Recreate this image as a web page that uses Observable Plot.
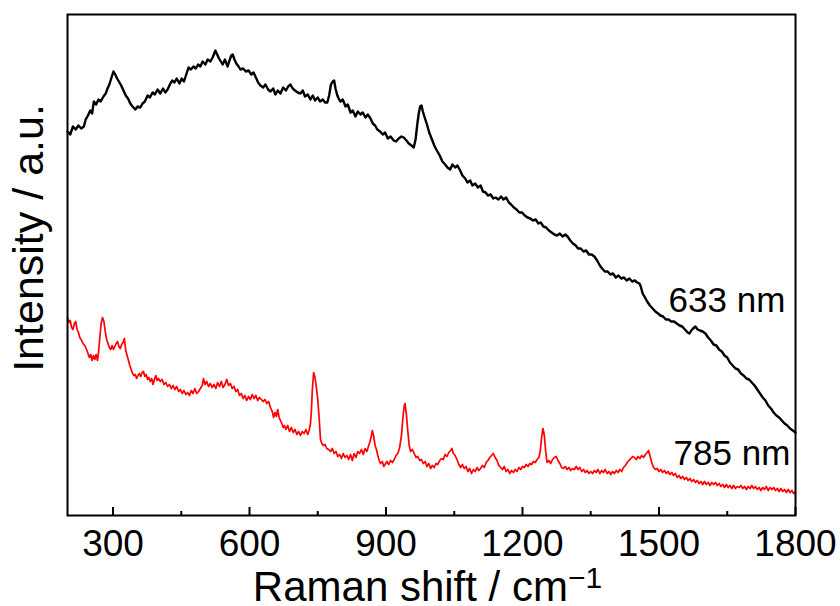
<!DOCTYPE html>
<html>
<head>
<meta charset="utf-8">
<script src="https://cdn.jsdelivr.net/npm/d3@7"></script>
<script src="https://cdn.jsdelivr.net/npm/@observablehq/plot@0.6"></script>
<style>
  html, body { margin: 0; padding: 0; background: #fff; }
  #chart { width: 840px; height: 606px; }
</style>
</head>
<body>
<div id="chart"></div>
<script>
// Raman spectrum measured with 633 nm excitation: [Raman shift (cm-1), intensity (a.u.)]
const spectrum633 = [
[200,384],[206,381],[212,389],[218,386],[224,390],[230,387],[236,389],[240,396],[245,400],[250,405],
[254,402],[258,414],[263,411],[268,416],[273,414],[279,419],[284,422],[288,427],[292,431],[296,437],
[301,444],[305,441],[309,437],[313,434],[318,430],[323,425],[328,420],[333,417],[338,412],[343,409],
[349,406],[354,409],[360,408],[365,412],[370,414],[376,420],[381,418],[387,423],[392,421],[398,426],
[404,422],[410,427],[415,423],[420,426],[425,431],[430,435],[435,433],[440,437],[446,432],[451,437],
[456,434],[461,441],[466,448],[471,446],[477,449],[482,447],[487,451],[492,449],[497,454],[503,451],
[508,456],[514,454],[519,458],[525,465],[529,461],[533,457],[537,454],[541,451],[546,456],[552,449],
[556,455],[560,460],[563,461],[567,456],[571,452],[576,449],[580,446],[586,447],[592,444],[598,445],
[604,441],[609,443],[614,438],[619,433],[624,430],[630,428],[635,431],[641,426],[646,424],[652,427],
[657,421],[662,425],[668,422],[674,428],[680,425],[685,429],[690,431],[695,427],[700,425],[706,423],
[712,422],[717,425],[722,419],[728,421],[734,416],[739,420],[744,415],[750,418],[755,414],[761,416],
[766,413],[771,413],[775,420],[779,431],[783,434],[786,435],[789,427],[793,420],[797,416],[800,414],
[805,416],[811,409],[816,411],[822,403],[827,405],[833,399],[838,404],[844,401],[849,403],[855,398],
[860,401],[866,397],[871,392],[876,390],[881,386],[887,384],[893,381],[898,383],[904,377],[910,379],
[917,375],[922,374],[928,377],[934,379],[939,378],[945,375],[950,372],[956,370],[961,368],[965,376],
[969,392],[972,402],[975,409],[978,410],[981,404],[985,398],[990,391],[995,383],[1001,376],[1007,369],
[1013,364],[1018,360],[1024,354],[1030,351],[1035,348],[1041,346],[1046,351],[1052,348],[1057,350],[1063,345],
[1068,340],[1074,337],[1079,333],[1085,335],[1090,330],[1096,332],[1102,328],[1108,330],[1113,324],[1119,323],
[1124,320],[1130,321],[1136,317],[1141,318],[1147,316],[1153,319],[1158,316],[1164,318],[1170,313],[1175,311],
[1181,308],[1187,306],[1193,303],[1199,303],[1205,300],[1211,298],[1217,297],[1223,295],[1229,296],[1235,292],
[1240,293],[1246,289],[1252,288],[1258,285],[1264,283],[1270,281],[1276,280],[1282,282],[1288,279],[1294,281],
[1299,279],[1305,275],[1311,272],[1317,270],[1322,267],[1328,267],[1334,264],[1340,265],[1346,261],[1352,261],
[1358,259],[1364,255],[1370,250],[1375,247],[1381,244],[1387,244],[1393,241],[1399,242],[1405,238],[1411,240],
[1417,237],[1423,238],[1429,235],[1435,237],[1441,234],[1447,235],[1452,233],[1457,232],[1460,229],[1464,222],
[1468,219],[1474,214],[1480,210],[1486,207],[1492,204],[1498,202],[1503,200],[1509,199],[1515,196],[1521,196],
[1527,194],[1533,194],[1539,192],[1545,190],[1551,189],[1557,186],[1563,183],[1567,182],[1571,185],[1575,187],
[1580,189],[1585,186],[1590,185],[1596,184],[1602,182],[1608,178],[1614,175],[1620,171],[1626,170],[1632,166],
[1638,164],[1644,160],[1650,158],[1656,153],[1662,150],[1668,147],[1674,146],[1680,142],[1686,140],[1692,137],
[1698,136],[1704,133],[1710,130],[1716,126],[1722,122],[1728,118],[1734,115],[1740,110],[1746,107],[1752,103],
[1758,100],[1764,98],[1770,95],[1776,92],[1782,90],[1788,87],[1794,85],[1800,83]
];

// Raman spectrum measured with 785 nm excitation: [Raman shift (cm-1), intensity (a.u.)]
const spectrum785 = [
[200,198],[203,193],[206,195],[209,188],[212,186],[215,192],[218,194],[221,186],[224,183],[227,178],
[230,176],[234,172],[238,170],[242,166],[245,162],[248,158],[251,161],[254,155],[257,160],[260,156],
[263,161],[266,155],[268,162],[271,178],[274,192],[277,198],[280,194],[283,184],[286,176],[289,172],
[292,168],[295,166],[298,170],[301,166],[304,169],[307,172],[310,174],[313,169],[316,167],[319,171],
[322,173],[325,177],[328,165],[331,160],[334,155],[337,150],[340,146],[343,142],[346,140],[349,141],
[352,137],[355,140],[358,142],[361,139],[364,143],[367,144],[370,139],[373,141],[376,136],[379,138],
[382,134],[385,137],[388,131],[391,136],[394,140],[397,135],[400,137],[404,134],[408,136],[412,131],
[416,133],[420,129],[424,131],[428,127],[432,130],[436,126],[440,129],[444,124],[448,126],[452,122],
[456,125],[460,121],[464,123],[468,120],[472,125],[476,122],[480,127],[484,122],[488,124],[492,127],
[496,130],[499,137],[502,131],[506,134],[510,129],[514,132],[518,128],[522,131],[526,127],[530,133],
[534,129],[538,134],[542,128],[546,131],[550,136],[554,130],[558,132],[562,127],[566,129],[570,124],
[574,126],[578,120],[582,122],[586,117],[590,120],[594,115],[598,119],[602,116],[606,121],[610,117],
[614,120],[618,115],[622,118],[626,116],[630,114],[634,116],[638,112],[642,114],[646,108],[650,104],
[653,98],[656,103],[659,99],[662,106],[665,98],[668,95],[671,92],[674,88],[677,90],[680,86],
[684,90],[688,84],[692,88],[696,83],[700,86],[704,81],[708,84],[712,80],[716,84],[720,82],
[724,86],[728,81],[731,85],[734,92],[736,104],[738,125],[741,143],[744,138],[747,128],[750,116],
[753,98],[756,76],[759,72],[762,70],[766,71],[770,67],[774,66],[778,64],[782,67],[786,62],
[790,64],[794,59],[798,61],[802,57],[806,62],[810,58],[814,60],[818,56],[822,61],[826,55],
[830,62],[834,58],[838,64],[842,62],[846,66],[850,61],[854,67],[858,64],[862,70],[865,74],
[868,80],[870,85],[873,79],[876,70],[879,66],[882,60],[885,55],[888,52],[892,54],[895,49],
[898,51],[902,54],[906,51],[910,55],[914,53],[918,56],[922,60],[926,62],[930,68],[934,80],
[937,97],[940,110],[942,112],[945,100],[948,84],[951,70],[954,64],[958,66],[962,62],[966,58],
[970,59],[974,55],[978,56],[982,52],[986,54],[990,49],[994,52],[998,47],[1002,50],[1006,48],
[1010,52],[1014,51],[1018,55],[1022,57],[1026,56],[1030,61],[1034,59],[1038,63],[1042,65],[1045,67],
[1048,62],[1052,60],[1056,56],[1060,51],[1064,48],[1068,51],[1072,47],[1076,49],[1080,44],[1084,47],
[1088,42],[1092,46],[1096,44],[1100,48],[1104,45],[1108,47],[1112,50],[1116,48],[1120,53],[1124,55],
[1128,58],[1132,60],[1136,62],[1140,58],[1144,55],[1148,50],[1152,48],[1156,46],[1160,49],[1164,44],
[1168,46],[1172,42],[1176,45],[1180,43],[1184,46],[1188,44],[1192,48],[1196,46],[1200,49],[1204,48],
[1208,51],[1212,49],[1216,52],[1220,51],[1224,54],[1228,53],[1232,56],[1236,58],[1239,64],[1242,78],
[1245,87],[1248,80],[1251,64],[1254,53],[1258,55],[1262,52],[1266,56],[1270,58],[1274,59],[1278,55],
[1282,52],[1286,48],[1290,47],[1294,49],[1298,46],[1302,48],[1306,45],[1310,47],[1314,46],[1318,49],
[1322,46],[1326,48],[1330,44],[1334,46],[1338,43],[1342,45],[1346,42],[1350,44],[1354,42],[1358,45],
[1362,43],[1366,46],[1370,42],[1374,45],[1378,43],[1382,46],[1386,42],[1390,44],[1394,41],[1398,44],
[1402,42],[1406,45],[1410,43],[1414,46],[1418,44],[1422,48],[1426,50],[1430,53],[1434,55],[1438,57],
[1442,59],[1446,58],[1450,56],[1454,59],[1458,57],[1462,60],[1466,58],[1470,61],[1474,63],[1477,65],
[1480,60],[1484,53],[1488,48],[1492,46],[1496,47],[1500,44],[1504,46],[1508,43],[1512,45],[1516,42],
[1520,44],[1524,41],[1528,43],[1532,40],[1536,42],[1540,38],[1544,40],[1548,37],[1552,39],[1556,36],
[1560,38],[1564,35],[1568,37],[1572,34],[1576,36],[1580,33],[1584,35],[1588,32],[1592,34],[1596,31],
[1600,34],[1604,31],[1608,33],[1612,30],[1616,33],[1620,31],[1624,33],[1628,30],[1632,32],[1636,29],
[1640,31],[1644,28],[1648,31],[1652,28],[1656,30],[1660,27],[1664,30],[1668,27],[1672,29],[1676,28],
[1680,30],[1684,27],[1688,29],[1692,26],[1696,29],[1700,27],[1704,30],[1708,27],[1712,29],[1716,26],
[1720,28],[1724,25],[1728,28],[1732,26],[1736,29],[1740,25],[1744,28],[1748,26],[1752,28],[1756,25],
[1760,27],[1764,24],[1768,27],[1772,24],[1776,26],[1780,23],[1784,26],[1788,23],[1792,25],[1796,22],
[1800,24]
];

const majorTicks = [300, 600, 900, 1200, 1500, 1800];
const minorTicks = [450, 750, 1050, 1350, 1650];

const seriesNames = ["633 nm", "785 nm"];
const seriesColors = ["#000000", "#ff0000"];
const labelShift = [1521, 1532];
const labelIntensity = [228, 75];

const xTitle = "Raman shift / cm";
const xTitleExponent = "\u22121";
const yTitle = "Intensity / a.u.";

const labels = seriesNames.map((name, i) => ({name, shift: labelShift[i], intensity: labelIntensity[i]}));

const FONT = "'Liberation Sans', Arial, Helvetica, sans-serif";

const chart = Plot.plot({
  width: 840,
  height: 606,
  marginLeft: 67,
  marginRight: 45,
  marginTop: 14,
  marginBottom: 91,
  style: {fontFamily: FONT, background: "#ffffff", color: "#000000"},
  x: {domain: [200, 1800]},
  y: {domain: [0, 501], axis: null},
  marks: [
    Plot.line(spectrum785, {x: d => d[0], y: d => d[1], stroke: seriesColors[1], strokeWidth: 1.7, strokeLinejoin: "round"}),
    Plot.line(spectrum633, {x: d => d[0], y: d => d[1], stroke: seriesColors[0], strokeWidth: 2.4, strokeLinejoin: "round"}),
    Plot.axisX({ticks: majorTicks, tickSize: -8, tickPadding: 22, strokeWidth: 2, fontSize: 37, label: null, tickFormat: d3.format("d")}),
    Plot.axisX({ticks: minorTicks, tickSize: -4, tickPadding: 0, strokeWidth: 2, label: null, tickFormat: () => ""}),
    Plot.frame({stroke: "#000000", strokeWidth: 2}),
    Plot.text(labels, {x: "shift", y: "intensity", text: "name", textAnchor: "start", lineAnchor: "top", fontSize: 35, fill: "#000000"}),
    Plot.text([yTitle], {frameAnchor: "left", rotate: -90, textAnchor: "middle", lineAnchor: "middle", dx: -38, dy: -27, fontSize: 43, fill: "#000000"}),
    Plot.text([xTitle], {frameAnchor: "bottom", textAnchor: "middle", lineAnchor: "top", dx: -4, dy: 56, fontSize: 42, fill: "#000000"})
  ]
});

document.getElementById("chart").appendChild(chart);

// superscript exponent on the x-axis title
d3.select(chart).selectAll("text")
  .filter(function () { return this.textContent === xTitle; })
  .each(function () {
    d3.select(this).append("tspan")
      .attr("dy", "-13")
      .attr("font-size", "30")
      .text(xTitleExponent);
  });
</script>
</body>
</html>
